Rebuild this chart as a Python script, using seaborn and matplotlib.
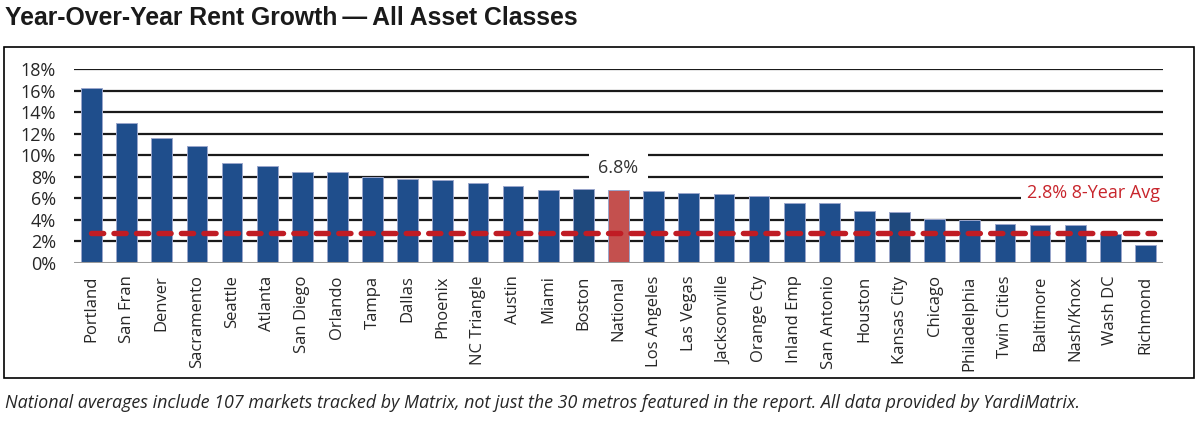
import pandas as pd
import matplotlib.pyplot as plt
import matplotlib.transforms as mtransforms
import seaborn as sns

# 데이터
markets = ["Portland", "San Fran", "Denver", "Sacramento", "Seattle", "Atlanta",
           "San Diego", "Orlando", "Tampa", "Dallas", "Phoenix", "NC Triangle",
           "Austin", "Miami", "Boston", "National", "Los Angeles", "Las Vegas",
           "Jacksonville", "Orange Cty", "Inland Emp", "San Antonio", "Houston",
           "Kansas City", "Chicago", "Philadelphia", "Twin Cities", "Baltimore",
           "Nash/Knox", "Wash DC", "Richmond"]
growth = [16.2, 13.0, 11.6, 10.9, 9.3, 9.0, 8.45, 8.4, 8.0, 7.8, 7.7, 7.4,
          7.1, 6.8, 6.9, 6.8, 6.65, 6.5, 6.4, 6.2, 5.6, 5.55, 4.85, 4.75,
          4.05, 3.95, 3.6, 3.55, 3.5, 2.65, 1.65]
avg_8yr = 2.8
yticks = [0, 2, 4, 6, 8, 10, 12, 14, 16, 18]

title = "Year-Over-Year Rent Growth\u2009\u2014\u2009All Asset Classes"
note = ("National averages include 107 markets tracked by Matrix, not just the 30 metros "
        "featured in the report. All data provided by YardiMatrix.")

blue = "#1F4E8C"
dark_blue = "#1F497D"
red_bar = "#C4504E"
red_line = "#C01C24"

palette = {m: blue for m in markets}
palette["Boston"] = dark_blue
palette["Kansas City"] = dark_blue
palette["National"] = red_bar

df = pd.DataFrame({"market": markets, "growth": growth})

sns.set_style("white")
plt.rcParams["font.family"] = ["Open Sans", "DejaVu Sans"]

fig = plt.figure(figsize=(12, 4.26), dpi=100)
ax = fig.add_axes([74 / 1200, 1 - 263 / 426, (1163 - 74) / 1200, (263 - 69) / 426])

sns.barplot(data=df, x="market", y="growth", hue="market", palette=palette,
            legend=False, width=0.59, edgecolor="#9AA6CC", linewidth=0.7,
            saturation=1, ax=ax, zorder=2)

# 격자선
for t in yticks[1:]:
    ax.axhline(t, color="#1A1A1A", lw=1.6, zorder=1)
ax.axhline(0, color="#9A9A9A", lw=2.2, zorder=3)

# 8년 평균선
ax.hlines(avg_8yr, -0.02, len(markets) - 0.75, colors=red_line, lw=3.9,
          linestyles=(0, (2.25, 1.9)), capstyle="round", zorder=4)

ax.set_xlim(-0.5, len(markets) - 0.5)
ax.set_ylim(0, 18)
ax.set_yticks(yticks)
ax.set_yticklabels([f"{t}%" for t in yticks])
ax.set_xlabel("")
ax.set_ylabel("")
ax.tick_params(axis="x", rotation=90, labelsize=12, length=0, pad=9, colors="#262626")
ax.tick_params(axis="y", labelsize=13, length=0, pad=13, colors="#262626")
for s in ax.spines.values():
    s.set_visible(False)

# 라벨
nat_idx = markets.index("National")
ax.text(nat_idx, 8.8, f"{growth[nat_idx]:.1f}%", ha="center", va="center",
        fontsize=13, color="#333333", zorder=5,
        bbox=dict(facecolor="white", edgecolor="none", boxstyle="square,pad=0.5"))
trans = mtransforms.blended_transform_factory(ax.transAxes, ax.transData)
ax.text(0.997, 6.5, f"{avg_8yr}% 8-Year Avg", transform=trans, ha="right", va="center",
        fontsize=13, color="#C8252C", zorder=5,
        bbox=dict(facecolor="white", edgecolor="none", boxstyle="square,pad=0.3"))

# 테두리
fig.patches.append(plt.Rectangle((4 / 1200, 1 - 378 / 426), 1190 / 1200, 331 / 426,
                                 transform=fig.transFigure, fill=False,
                                 edgecolor="black", lw=1.2))

fig.text(5 / 1200, 1 - 18 / 426, title, ha="left", va="center", fontsize=17.8,
         fontweight="bold", family=["Liberation Sans", "DejaVu Sans"], color="#1A1A1A")
fig.text(5 / 1200, 1 - 403 / 426, note, ha="left", va="center", fontsize=12.9,
         style="italic", color="#262626")

fig.savefig("out.png", dpi=100)
plt.close()
